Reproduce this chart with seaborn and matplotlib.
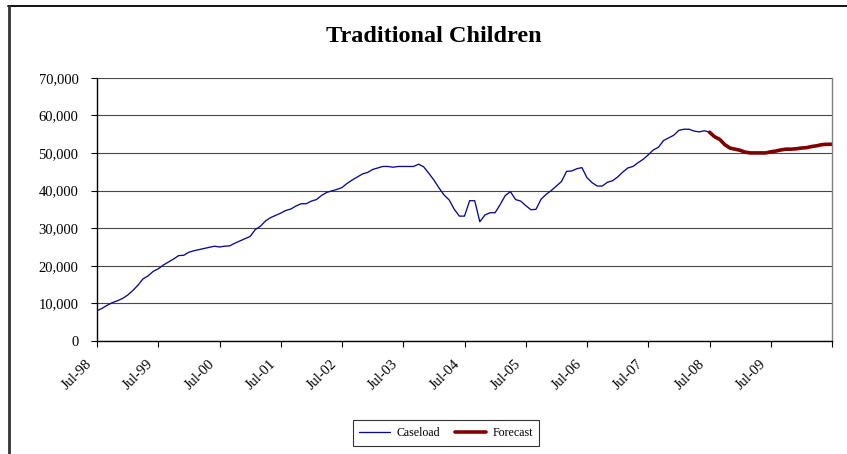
import numpy as np
import pandas as pd
import matplotlib
matplotlib.use("Agg")
import matplotlib.pyplot as plt
from matplotlib.lines import Line2D
from matplotlib.ticker import FuncFormatter, MultipleLocator
from matplotlib.transforms import ScaledTranslation
import seaborn as sns

# Monthly caseload, Jul-98 through Jul-08
caseload = [
    8000, 8700, 9500, 10200, 10700, 11300, 12200, 13400, 14800, 16500, 17300, 18500,
    19200, 20200, 21000, 21800, 22700, 22800, 23600, 24000, 24300, 24600, 24900, 25200,
    25000, 25200, 25300, 26000, 26600, 27200, 27800, 29600, 30500, 31900, 32800, 33400,
    34000, 34700, 35100, 35900, 36500, 36500, 37200, 37600, 38700, 39500, 39900, 40300,
    40800, 41900, 42800, 43600, 44400, 44800, 45600, 46000, 46400, 46400, 46200, 46400,
    46400, 46400, 46400, 47000, 46300, 44600, 42800, 40700, 38800, 37500, 35000, 33200,
    33200, 37300, 37300, 31700, 33500, 34100, 34100, 36300, 38700, 39700, 37600, 37200,
    36000, 34900, 35000, 37700, 39000, 40000, 41200, 42400, 45100, 45200, 45800, 46100,
    43400, 42100, 41200, 41200, 42200, 42600, 43600, 44900, 46000, 46400, 47400, 48300,
    49500, 50800, 51500, 53300, 54000, 54700, 56000, 56300, 56300, 55800, 55600, 55900,
    55500,
]

# Forecast, Jul-08 through Jul-10
forecast = [
    55500, 54300, 53600, 52200, 51300, 51000, 50700, 50200, 50000, 50000, 50000, 50000,
    50300, 50500, 50800, 51000, 51000, 51100, 51300, 51400, 51700, 51900, 52200, 52300,
    52300,
]

# Months from Jul-98 at which the forecast begins
forecast_start = 120

year_labels = ["Jul-98", "Jul-99", "Jul-00", "Jul-01", "Jul-02", "Jul-03",
               "Jul-04", "Jul-05", "Jul-06", "Jul-07", "Jul-08", "Jul-09"]

y_max = 70000
y_step = 10000

sns.set_theme(style="white")
plt.rcParams["font.family"] = ["Liberation Serif", "DejaVu Serif"]
plt.rcParams["text.color"] = "black"
plt.rcParams["xtick.color"] = "black"
plt.rcParams["ytick.color"] = "black"

df_case = pd.DataFrame({"month": np.arange(len(caseload)), "clients": caseload})
df_fc = pd.DataFrame({"month": np.arange(forecast_start, forecast_start + len(forecast)),
                      "clients": forecast})
last_month = forecast_start + len(forecast) - 1

W, H = 847, 454
fig = plt.figure(figsize=(W / 100, H / 100), dpi=100)
fig.patch.set_facecolor("white")
ax = fig.add_axes([97 / W, 1 - 341 / H, 735 / W, (341 - 77.7) / H])

sns.lineplot(data=df_case, x="month", y="clients", ax=ax, color="#0a0a8c",
             linewidth=0.95, label="Caseload")
sns.lineplot(data=df_fc, x="month", y="clients", ax=ax, color="#800000",
             linewidth=2.6, label="Forecast")

ax.set_xlim(0, last_month)
ax.set_ylim(0, y_max)
ax.set_xlabel("")
ax.set_ylabel("")

# Horizontal grid
ax.yaxis.set_major_locator(MultipleLocator(y_step))
ax.yaxis.set_major_formatter(FuncFormatter(lambda v, p: f"{int(v):,}"))
ax.grid(axis="y", color="#474747", linewidth=0.8)
ax.grid(axis="x", visible=False)
ax.set_axisbelow(True)

ax.tick_params(axis="x", direction="out", length=4.3, width=0.8, color="black",
               labelsize=10.5, pad=7, bottom=True)
ax.tick_params(axis="y", direction="out", length=4.3, width=0.8, color="black",
               labelsize=10.5, pad=9, left=True)

# Yearly ticks on the category axis
ticks = list(range(0, last_month + 1, 12))
ax.set_xticks(ticks)
ax.set_xticklabels(year_labels + [""] * (len(ticks) - len(year_labels)))
shift = ScaledTranslation(-5 / 72, -4 / 72, fig.dpi_scale_trans)
for lab in ax.get_xticklabels():
    lab.set_rotation(45)
    lab.set_ha("right")
    lab.set_va("center")
    lab.set_rotation_mode("anchor")
    lab.set_transform(lab.get_transform() + shift)

for side in ("left", "bottom"):
    ax.spines[side].set_color("black")
    ax.spines[side].set_linewidth(1.0)
ax.spines["top"].set_visible(False)
ax.spines["right"].set_color("#808080")
ax.spines["right"].set_linewidth(1.0)

ax.get_legend().remove()
handles = [Line2D([], [], color="#0a0a8c", linewidth=0.95),
           Line2D([], [], color="#800000", linewidth=2.6)]
leg = fig.legend(handles, ["Caseload", "Forecast"], loc="center",
                 bbox_to_anchor=(446 / W, 1 - 433 / H), ncol=2, fontsize=8.6,
                 frameon=True, fancybox=False, handlelength=2.6, handletextpad=0.5,
                 columnspacing=1.3, borderpad=0.55)
leg.get_frame().set_edgecolor("black")
leg.get_frame().set_linewidth(0.8)

fig.text(434 / W, 1 - 37 / H, "Traditional Children", ha="center", va="center",
         fontsize=17.5, fontweight="bold", color="black")

# Chart frame along the top and left edges
fig.add_artist(Line2D([8 / W, 1], [1 - 5.5 / H, 1 - 5.5 / H], transform=fig.transFigure,
                      color="#000000", linewidth=1.3))
fig.add_artist(Line2D([8.5 / W, 8.5 / W], [0, 1 - 5.5 / H], transform=fig.transFigure,
                      color="#333333", linewidth=2.0))

fig.savefig("out.png", dpi=100, facecolor="white")
